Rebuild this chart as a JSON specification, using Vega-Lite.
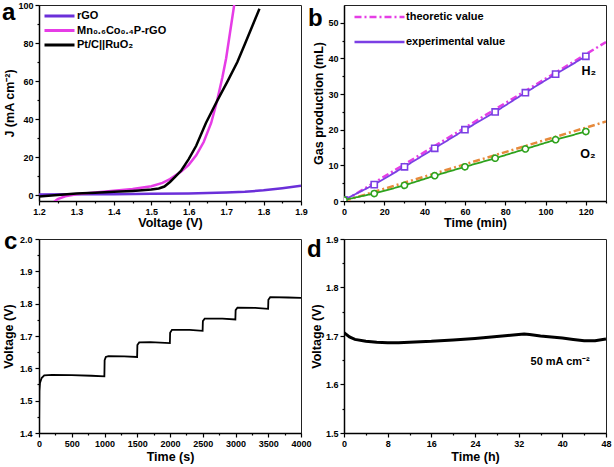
{
  "$schema": "https://vega.github.io/schema/vega-lite/v6.json",
  "background": "white",
  "padding": {"left": 1, "top": 0, "right": 2, "bottom": 2},
  "autosize": {"type": "pad"},
  "config": {
    "font": "Liberation Sans",
    "view": {"stroke": "#222", "strokeWidth": 1},
    "axis": {"domainColor": "#000", "domainWidth": 1.5, "tickColor": "#000", "tickWidth": 1.2, "labelFont": "Liberation Sans", "labelFontSize": 9, "labelFontWeight": "bold", "labelColor": "#000", "titleFont": "Liberation Sans", "titleFontSize": 12.5, "titleFontWeight": "bold", "titleColor": "#000", "grid": false, "labelFlush": false, "labelOverlap": false, "labelPadding": 2, "titlePadding": 2},
    "legend": {"labelFont": "Liberation Sans", "labelFontSize": 11, "labelFontWeight": "bold", "labelColor": "#000"},
    "title": {"font": "Liberation Sans", "fontSize": 24, "fontWeight": "bold", "color": "#000", "anchor": "start", "frame": "group", "baseline": "alphabetic", "offset": 0}
  },
  "columns": 2,
  "spacing": {"row": 38, "column": 43},
  "bounds": "flush",
  "resolve": {"scale": {"color": "independent", "strokeDash": "independent", "shape": "independent", "x": "independent", "y": "independent"}, "legend": {"color": "independent", "strokeDash": "independent"}},
  "concat": [
        {
          "width": 262, "height": 196,
          "title": {"text": "a", "dx": -37, "dy": 28},
          "data": {"values": [
            {"s": "rGO", "v": 1.2, "j": 0.4}, {"s": "rGO", "v": 1.3, "j": 0.5}, {"s": "rGO", "v": 1.4, "j": 0.6}, {"s": "rGO", "v": 1.5, "j": 0.8}, {"s": "rGO", "v": 1.6, "j": 1.0}, {"s": "rGO", "v": 1.7, "j": 1.5}, {"s": "rGO", "v": 1.75, "j": 1.9}, {"s": "rGO", "v": 1.8, "j": 2.6}, {"s": "rGO", "v": 1.85, "j": 3.7}, {"s": "rGO", "v": 1.9, "j": 5.0},
            {"s": "Mn₀.₆Co₀.₄P-rGO", "v": 1.24, "j": -3.5}, {"s": "Mn₀.₆Co₀.₄P-rGO", "v": 1.25, "j": -2}, {"s": "Mn₀.₆Co₀.₄P-rGO", "v": 1.27, "j": -0.5}, {"s": "Mn₀.₆Co₀.₄P-rGO", "v": 1.3, "j": 0.6}, {"s": "Mn₀.₆Co₀.₄P-rGO", "v": 1.35, "j": 1.5}, {"s": "Mn₀.₆Co₀.₄P-rGO", "v": 1.4, "j": 2.4}, {"s": "Mn₀.₆Co₀.₄P-rGO", "v": 1.45, "j": 3.3}, {"s": "Mn₀.₆Co₀.₄P-rGO", "v": 1.5, "j": 4.8}, {"s": "Mn₀.₆Co₀.₄P-rGO", "v": 1.53, "j": 6.5}, {"s": "Mn₀.₆Co₀.₄P-rGO", "v": 1.55, "j": 8.5}, {"s": "Mn₀.₆Co₀.₄P-rGO", "v": 1.58, "j": 12.5}, {"s": "Mn₀.₆Co₀.₄P-rGO", "v": 1.6, "j": 16}, {"s": "Mn₀.₆Co₀.₄P-rGO", "v": 1.62, "j": 21}, {"s": "Mn₀.₆Co₀.₄P-rGO", "v": 1.64, "j": 28}, {"s": "Mn₀.₆Co₀.₄P-rGO", "v": 1.66, "j": 38}, {"s": "Mn₀.₆Co₀.₄P-rGO", "v": 1.675, "j": 49}, {"s": "Mn₀.₆Co₀.₄P-rGO", "v": 1.69, "j": 62}, {"s": "Mn₀.₆Co₀.₄P-rGO", "v": 1.7, "j": 72}, {"s": "Mn₀.₆Co₀.₄P-rGO", "v": 1.71, "j": 85}, {"s": "Mn₀.₆Co₀.₄P-rGO", "v": 1.72, "j": 98}, {"s": "Mn₀.₆Co₀.₄P-rGO", "v": 1.73, "j": 112},
            {"s": "Pt/C||RuO₂", "v": 1.2, "j": -0.6}, {"s": "Pt/C||RuO₂", "v": 1.25, "j": 0.2}, {"s": "Pt/C||RuO₂", "v": 1.3, "j": 0.9}, {"s": "Pt/C||RuO₂", "v": 1.35, "j": 1.4}, {"s": "Pt/C||RuO₂", "v": 1.4, "j": 1.8}, {"s": "Pt/C||RuO₂", "v": 1.45, "j": 2.3}, {"s": "Pt/C||RuO₂", "v": 1.5, "j": 3.0}, {"s": "Pt/C||RuO₂", "v": 1.52, "j": 3.6}, {"s": "Pt/C||RuO₂", "v": 1.535, "j": 4.6}, {"s": "Pt/C||RuO₂", "v": 1.55, "j": 7}, {"s": "Pt/C||RuO₂", "v": 1.565, "j": 10}, {"s": "Pt/C||RuO₂", "v": 1.58, "j": 13}, {"s": "Pt/C||RuO₂", "v": 1.6, "j": 19}, {"s": "Pt/C||RuO₂", "v": 1.62, "j": 26}, {"s": "Pt/C||RuO₂", "v": 1.646, "j": 38}, {"s": "Pt/C||RuO₂", "v": 1.677, "j": 50}, {"s": "Pt/C||RuO₂", "v": 1.704, "j": 60}, {"s": "Pt/C||RuO₂", "v": 1.73, "j": 70}, {"s": "Pt/C||RuO₂", "v": 1.749, "j": 79}, {"s": "Pt/C||RuO₂", "v": 1.77, "j": 89}, {"s": "Pt/C||RuO₂", "v": 1.789, "j": 98}
          ]},
          "mark": {"type": "line", "clip": true, "strokeWidth": 2.5},
          "encoding": {
            "x": {"field": "v", "type": "quantitative", "scale": {"domain": [1.2, 1.9], "nice": false, "zero": false},
              "axis": {"title": "Voltage (V)", "titlePadding": 0, "values": [1.2, 1.25, 1.3, 1.35, 1.4, 1.45, 1.5, 1.55, 1.6, 1.65, 1.7, 1.75, 1.8, 1.85, 1.9],
                "labelExpr": "abs(datum.value*10 - round(datum.value*10)) < 0.01 ? format(datum.value, '.1f') : ''",
                "tickSize": {"condition": {"test": "abs(datum.value*10 - round(datum.value*10)) < 0.01", "value": 4}, "value": 2}}},
            "y": {"field": "j", "type": "quantitative", "scale": {"domain": [-3, 100], "nice": false, "zero": false},
              "axis": {"title": "J (mA cm⁻²)", "values": [0, 10, 20, 30, 40, 50, 60, 70, 80, 90, 100], "titlePadding": 1,
                "labelExpr": "datum.value % 20 == 0 ? datum.label : ''",
                "tickSize": {"condition": {"test": "datum.value % 20 == 0", "value": 4}, "value": 2}}},
            "color": {"field": "s", "type": "nominal", "sort": null,
              "scale": {"domain": ["rGO", "Mn₀.₆Co₀.₄P-rGO", "Pt/C||RuO₂"], "range": ["#6b2fd9", "#e63ce6", "#000000"]},
              "legend": {"title": null, "orient": "none", "legendX": 4, "legendY": 5, "symbolType": "stroke", "symbolSize": 900, "symbolStrokeWidth": 3, "clipHeight": 12, "rowPadding": 2.5, "labelOffset": 1, "padding": 0}}
          }
        },
        {
          "width": 262, "height": 196,
          "title": {"text": "b", "dx": -36, "dy": 30},
          "layer": [
            {
              "data": {"values": [
                {"series": "H2 theoretic", "kind": "theoretic value", "t": 0, "v": 0}, {"series": "H2 theoretic", "kind": "theoretic value", "t": 130, "v": 44.6},
                {"series": "O2 theoretic", "kind": "theoretic value", "t": 0, "v": 0}, {"series": "O2 theoretic", "kind": "theoretic value", "t": 130, "v": 22.3}
              ]},
              "mark": {"type": "line", "strokeWidth": 2.5, "clip": true},
              "encoding": {
                "x": {"field": "t", "type": "quantitative"},
                "y": {"field": "v", "type": "quantitative"},
                "detail": {"field": "series"},
                "color": {"field": "series", "type": "nominal", "legend": null},
                "strokeDash": {"field": "kind", "type": "nominal"}
              }
            },
            {
              "data": {"values": [
                {"series": "H2 experimental", "kind": "experimental value", "gas": "H2", "t": 0, "v": 0.3}, {"series": "H2 experimental", "kind": "experimental value", "gas": "H2", "t": 15, "v": 4.6}, {"series": "H2 experimental", "kind": "experimental value", "gas": "H2", "t": 30, "v": 9.6}, {"series": "H2 experimental", "kind": "experimental value", "gas": "H2", "t": 45, "v": 14.8}, {"series": "H2 experimental", "kind": "experimental value", "gas": "H2", "t": 60, "v": 20}, {"series": "H2 experimental", "kind": "experimental value", "gas": "H2", "t": 75, "v": 25}, {"series": "H2 experimental", "kind": "experimental value", "gas": "H2", "t": 90, "v": 30.4}, {"series": "H2 experimental", "kind": "experimental value", "gas": "H2", "t": 105, "v": 35.6}, {"series": "H2 experimental", "kind": "experimental value", "gas": "H2", "t": 120, "v": 40.6},
                {"series": "O2 experimental", "kind": "experimental value", "gas": "O2", "t": 0, "v": 0.3}, {"series": "O2 experimental", "kind": "experimental value", "gas": "O2", "t": 15, "v": 2.1}, {"series": "O2 experimental", "kind": "experimental value", "gas": "O2", "t": 30, "v": 4.4}, {"series": "O2 experimental", "kind": "experimental value", "gas": "O2", "t": 45, "v": 7.1}, {"series": "O2 experimental", "kind": "experimental value", "gas": "O2", "t": 60, "v": 9.6}, {"series": "O2 experimental", "kind": "experimental value", "gas": "O2", "t": 75, "v": 12}, {"series": "O2 experimental", "kind": "experimental value", "gas": "O2", "t": 90, "v": 14.6}, {"series": "O2 experimental", "kind": "experimental value", "gas": "O2", "t": 105, "v": 17.2}, {"series": "O2 experimental", "kind": "experimental value", "gas": "O2", "t": 120, "v": 19.5}
              ]},
              "layer": [
                {
                  "mark": {"type": "line", "strokeWidth": 1.8, "clip": true},
                  "encoding": {
                    "x": {"field": "t", "type": "quantitative"},
                    "y": {"field": "v", "type": "quantitative"},
                    "detail": {"field": "series"},
                    "color": {"field": "series", "type": "nominal", "legend": null},
                    "strokeDash": {"field": "kind", "type": "nominal"}
                  }
                },
                {
                  "mark": {"type": "point", "filled": false, "strokeWidth": 1.6, "size": 38, "clip": true, "fill": "white", "fillOpacity": 1},
                  "encoding": {
                    "x": {"field": "t", "type": "quantitative"},
                    "y": {"field": "v", "type": "quantitative"},
                    "color": {"field": "series", "type": "nominal", "legend": null},
                    "strokeDash": {"value": [1, 0]},
                    "shape": {"field": "gas", "type": "nominal", "scale": {"domain": ["H2", "O2"], "range": ["square", "circle"]}, "legend": null}
                  }
                }
              ]
            },
            {
              "data": {"values": [{"t": 121.5, "v": 36.5, "label": "H₂"}, {"t": 121, "v": 13.3, "label": "O₂"}]},
              "mark": {"type": "text", "fontSize": 12.5, "fontWeight": "bold", "font": "Liberation Sans", "align": "center", "baseline": "middle"},
              "encoding": {
                "x": {"field": "t", "type": "quantitative"},
                "y": {"field": "v", "type": "quantitative"},
                "color": {"value": "#000000"},
                "strokeDash": {"value": [1, 0]},
                "text": {"field": "label"}
              }
            }
          ],
          "encoding": {
            "x": {"field": "t", "type": "quantitative", "scale": {"domain": [0, 130], "nice": false},
              "axis": {"title": "Time (min)", "titlePadding": 0, "values": [0, 10, 20, 30, 40, 50, 60, 70, 80, 90, 100, 110, 120, 130],
                "labelExpr": "datum.value % 20 == 0 && datum.value <= 120 ? datum.label : ''",
                "tickSize": {"condition": {"test": "datum.value % 20 == 0", "value": 4}, "value": 2}}},
            "y": {"field": "v", "type": "quantitative", "scale": {"domain": [0, 55], "nice": false},
              "axis": {"title": "Gas production (mL)", "values": [0, 5, 10, 15, 20, 25, 30, 35, 40, 45, 50],
                "labelExpr": "datum.value % 10 == 0 ? datum.label : ''",
                "tickSize": {"condition": {"test": "datum.value % 10 == 0", "value": 4}, "value": 2}}},
            "color": {"field": "series", "type": "nominal", "legend": null,
              "scale": {"domain": ["H2 theoretic", "O2 theoretic", "H2 experimental", "O2 experimental"], "range": ["#e53ee5", "#e68a3c", "#7b3fe4", "#2ea21c"]}},
            "strokeDash": {"field": "kind", "type": "nominal",
              "scale": {"domain": ["theoretic value", "experimental value"], "range": [[7, 3, 2, 3], [1, 0]]},
              "legend": {"title": null, "orient": "none", "legendX": 9, "legendY": 6, "symbolType": "stroke", "symbolSize": 2500, "symbolStrokeWidth": 2.5, "clipHeight": 12, "rowPadding": 13, "labelOffset": 0, "padding": 0,
                "encode": {"symbols": {"update": {"stroke": {"signal": "datum.label === 'theoretic value' ? '#e53ee5' : '#7b3fe4'"}}}}}}
          }
        },
        {
          "width": 262, "height": 194,
          "title": {"text": "c", "dx": -35, "dy": 23},
          "data": {"values": [
            {"t": 0, "v": 1.4}, {"t": 5, "v": 1.53}, {"t": 15, "v": 1.555}, {"t": 40, "v": 1.57}, {"t": 80, "v": 1.578}, {"t": 200, "v": 1.58}, {"t": 500, "v": 1.579}, {"t": 800, "v": 1.577}, {"t": 998, "v": 1.575},
            {"t": 1002, "v": 1.625}, {"t": 1020, "v": 1.635}, {"t": 1060, "v": 1.638}, {"t": 1300, "v": 1.637}, {"t": 1498, "v": 1.635},
            {"t": 1502, "v": 1.672}, {"t": 1530, "v": 1.68}, {"t": 1700, "v": 1.681}, {"t": 1998, "v": 1.678},
            {"t": 2002, "v": 1.71}, {"t": 2030, "v": 1.719}, {"t": 2300, "v": 1.719}, {"t": 2498, "v": 1.716},
            {"t": 2502, "v": 1.746}, {"t": 2530, "v": 1.754}, {"t": 2800, "v": 1.754}, {"t": 2998, "v": 1.751},
            {"t": 3002, "v": 1.78}, {"t": 3030, "v": 1.788}, {"t": 3300, "v": 1.787}, {"t": 3498, "v": 1.784},
            {"t": 3502, "v": 1.812}, {"t": 3530, "v": 1.82}, {"t": 3800, "v": 1.819}, {"t": 4000, "v": 1.818}
          ]},
          "mark": {"type": "line", "strokeWidth": 1.8, "color": "#000", "clip": true},
          "encoding": {
            "x": {"field": "t", "type": "quantitative", "scale": {"domain": [0, 4000], "nice": false},
              "axis": {"title": "Time (s)", "values": [0, 250, 500, 750, 1000, 1250, 1500, 1750, 2000, 2250, 2500, 2750, 3000, 3250, 3500, 3750, 4000],
                "labelExpr": "datum.value % 500 == 0 ? datum.label : ''", "format": "d",
                "tickSize": {"condition": {"test": "datum.value % 500 == 0", "value": 4}, "value": 2}}},
            "y": {"field": "v", "type": "quantitative", "scale": {"domain": [1.4, 2.0], "nice": false, "zero": false},
              "axis": {"title": "Voltage (V)", "values": [1.4, 1.45, 1.5, 1.55, 1.6, 1.65, 1.7, 1.75, 1.8, 1.85, 1.9, 1.95, 2.0], "labelPadding": 3, "titlePadding": 4,
                "labelExpr": "abs(datum.value*10 - round(datum.value*10)) < 0.01 ? format(datum.value, '.1f') : ''",
                "tickSize": {"condition": {"test": "abs(datum.value*10 - round(datum.value*10)) < 0.01", "value": 4}, "value": 2}}}
          }
        },
        {
          "width": 262, "height": 194,
          "title": {"text": "d", "dx": -37, "dy": 31},
          "layer": [
            {
              "data": {"values": [
                {"t": 0, "v": 1.707}, {"t": 1, "v": 1.698}, {"t": 2, "v": 1.693}, {"t": 4, "v": 1.689}, {"t": 6, "v": 1.687}, {"t": 8, "v": 1.686}, {"t": 10, "v": 1.686}, {"t": 12, "v": 1.687}, {"t": 16, "v": 1.689}, {"t": 20, "v": 1.692}, {"t": 24, "v": 1.695}, {"t": 28, "v": 1.699}, {"t": 30, "v": 1.701}, {"t": 32, "v": 1.703}, {"t": 33, "v": 1.704}, {"t": 34, "v": 1.703}, {"t": 36, "v": 1.7}, {"t": 38, "v": 1.698}, {"t": 40, "v": 1.696}, {"t": 42, "v": 1.693}, {"t": 44, "v": 1.69}, {"t": 46, "v": 1.69}, {"t": 48, "v": 1.694}
              ]},
              "mark": {"type": "line", "strokeWidth": 3, "color": "#000", "clip": true},
              "encoding": {"x": {"field": "t", "type": "quantitative"}, "y": {"field": "v", "type": "quantitative"}}
            },
            {
              "data": {"values": [{"t": 39.6, "v": 1.646, "label": "50 mA cm⁻²"}]},
              "mark": {"type": "text", "fontSize": 11, "fontWeight": "bold", "font": "Liberation Sans", "color": "#000", "align": "center", "baseline": "middle"},
              "encoding": {"x": {"field": "t", "type": "quantitative"}, "y": {"field": "v", "type": "quantitative"}, "text": {"field": "label"}}
            }
          ],
          "encoding": {
            "x": {"field": "t", "type": "quantitative", "scale": {"domain": [0, 48], "nice": false},
              "axis": {"title": "Time (h)", "values": [0, 4, 8, 12, 16, 20, 24, 28, 32, 36, 40, 44, 48],
                "labelExpr": "datum.value % 8 == 0 ? datum.label : ''",
                "tickSize": {"condition": {"test": "datum.value % 8 == 0", "value": 4}, "value": 2}}},
            "y": {"field": "v", "type": "quantitative", "scale": {"domain": [1.5, 1.9], "nice": false, "zero": false},
              "axis": {"title": "Voltage (V)", "values": [1.5, 1.55, 1.6, 1.65, 1.7, 1.75, 1.8, 1.85, 1.9],
                "labelExpr": "abs(datum.value*10 - round(datum.value*10)) < 0.01 ? format(datum.value, '.1f') : ''",
                "tickSize": {"condition": {"test": "abs(datum.value*10 - round(datum.value*10)) < 0.01", "value": 4}, "value": 2}}}
          }
        }
  ]
}
